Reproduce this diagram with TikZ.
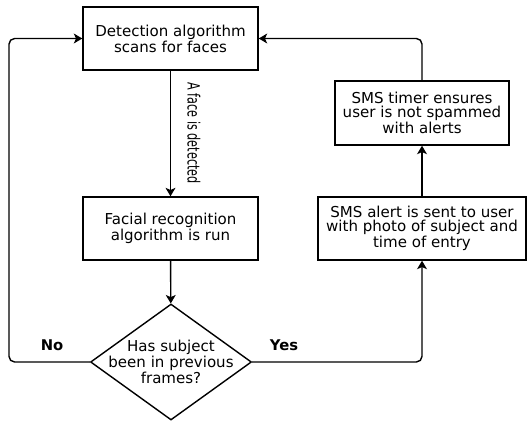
\documentclass[tikz,border=0pt]{standalone}
\usepackage{fontspec}
\setmainfont{DejaVu Sans}
\usetikzlibrary{shapes.geometric, arrows.meta, positioning}

\begin{document}
\begin{tikzpicture}[
		box/.style={draw, line width=1pt, align=center, inner sep=0pt, minimum width=4.375cm, minimum height=1.575cm, font=\fontsize{10.7}{10}\selectfont},
		decision/.style={draw, line width=1pt, diamond, aspect=1.39, inner sep=-6pt, minimum width=4.025cm, minimum height=2.9cm, align=center, font=\fontsize{10.7}{10}\selectfont},
		flow/.style={line width=1pt, rounded corners=4pt, -{Stealth[length=6pt, width=7pt, inset=1.5pt]}},
		answer/.style={font=\bfseries\fontsize{10.5}{12}\selectfont}
	]
		\useasboundingbox (0,0) rectangle (13.225,-10.5);
		% Left column
		\node[box] (scan) at (4.2625,-0.9625) {Detection algorithm\\scans for faces};
		\node[box] (recog) at (4.2625,-5.7125) {Facial recognition\\algorithm is run};
		\node[decision] (check) at (4.275,-9.05) {Has subject\\been in previous\\frames?};
		% Right column
		\node[box, minimum width=4.35cm, minimum height=1.6cm] (timer) at (10.55,-2.825) {SMS timer ensures\\user is not spammed\\with alerts};
		\node[box, minimum width=5.2cm] (alert) at (10.55,-5.7125) {SMS alert is sent to user\\with photo of subject and\\time of entry};
		% Labels
		\node[rotate=-90, font=\fontsize{8}{10}\selectfont] (facelabel) at (4.85,-3.325) {\scalebox{1}[1.5]{A face is detected}};
		\node[answer] (nolabel) at (1.3,-8.625) {No};
		\node[answer] (yeslabel) at (7.1,-8.625) {Yes};
		\coordinate (noback) at (0.225,0);
		% Connectors
		\draw[flow] (scan) -- (recog);
		\draw[flow] (recog) -- (check);
		\draw[flow] (check.east) -| (alert.south);
		\draw[flow] (alert) -- (timer);
		\draw[flow] (timer.north) |- (scan.east);
		\draw[flow] (check.west) -| (noback |- scan.west) -- (scan.west);
	\end{tikzpicture}
\end{document}
